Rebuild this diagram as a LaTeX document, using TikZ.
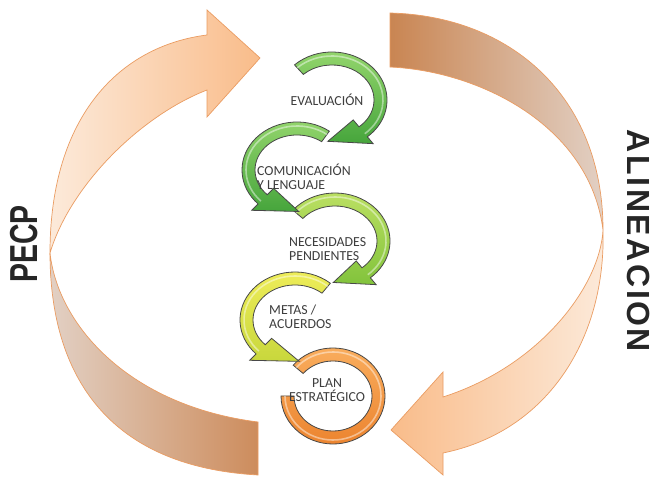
\documentclass[tikz,border=0pt]{standalone}
\usepackage{fontspec}
\usetikzlibrary{calc}
\newfontfamily\ringfont{Carlito}
\newfontfamily\sidefont{Liberation Sans}
\newfontfamily\alinfont{Liberation Sans}[LetterSpace=8]
\definecolor{bandline}{RGB}{234,156,98}
\definecolor{peachlight}{RGB}{252,234,218}
\definecolor{peach}{RGB}{249,188,138}
\definecolor{brownlight}{RGB}{226,208,196}
\definecolor{brown}{RGB}{205,140,92}
\definecolor{browndark}{RGB}{201,133,82}
\definecolor{ringline}{RGB}{72,72,72}
\definecolor{ringtextcol}{RGB}{62,62,62}
\definecolor{greenlight}{RGB}{150,215,110}
\definecolor{greendark}{RGB}{70,165,60}
\definecolor{limelight}{RGB}{190,225,100}
\definecolor{limedark}{RGB}{130,195,60}
\definecolor{yellowlight}{RGB}{240,238,90}
\definecolor{yellowdark}{RGB}{200,215,60}
\definecolor{orangelight}{RGB}{250,175,95}
\definecolor{orangedark}{RGB}{235,130,45}
\tikzset{
  band/.style={draw=bandline, line width=0.7pt},
  ring/.style={draw=ringline, line width=0.8pt},
  shine/.style={white, opacity=0.45, line width=1.6pt},
  ringtext/.style={font=\ringfont\fontsize{13.8}{14}\selectfont, text=ringtextcol, inner sep=0pt},
  sidetext/.style={font=\sidefont\bfseries\fontsize{39}{40}\selectfont, text=black!85, inner sep=0pt}
}
% circular arrow: centre, start angle, end angle, tip angle, light, dark
\newcommand{\ringarrow}[6]{%
  \begin{scope}[shift={(#1)}]
    \path[ring, top color=#5, bottom color=#6]
      (#2:55 and 48) arc[start angle=#2, end angle=#3, x radius=55, y radius=48]
      -- (#3:64 and 57) -- (#4:48.5 and 41.5) -- (#3:33 and 26) -- (#3:42 and 35)
      arc[start angle=#3, end angle=#2, x radius=42, y radius=35] -- cycle;
    \draw[shine] (#2:51 and 44) arc[start angle=#2, end angle=#3, x radius=51, y radius=44];
  \end{scope}}

\begin{document}
\begin{tikzpicture}[x=1pt, y=1pt]
  \clip (0,0) rectangle (652,476);
  \fill[white] (0,0) rectangle (652,476);

  \coordinate (pl) at (50,223);
  \coordinate (pr) at (603,246);

  % PECP arrow
  \path[band, left color=peachlight, right color=peach]
    (pl) .. controls (50,360) and (120,430) .. (207,441) -- (207,466) -- (260,418)
    -- (207,359) -- (207,386) .. controls (140,360) and (70,290) .. (pl) -- cycle;
  \path[band, left color=brownlight, right color=brown]
    (pl) .. controls (58,150) and (130,70) .. (258,54) -- (258,1)
    .. controls (100,10) and (50,110) .. (pl) -- cycle;

  % ALINEACION arrow
  \path[band, left color=browndark, right color=brownlight]
    (390,463) .. controls (510,460) and (603,380) .. (pr)
    .. controls (590,350) and (480,405) .. (390,409) -- cycle;
  \path[band, left color=peach, right color=peachlight]
    (pr) .. controls (606,140) and (550,45) .. (443,23) -- (443,1) -- (391,46)
    -- (443,104) -- (443,79) .. controls (540,110) and (600,190) .. (pr) -- cycle;

  % rings, bottom to top
  \coordinate (c1) at (332,376);
  \coordinate (c2) at (297,306);
  \coordinate (c3) at (335,235);
  \coordinate (c4) at (295,156);
  \coordinate (c5) at (333,80);

  \begin{scope}[shift={(c5)}]
    \path[ring, top color=orangelight, bottom color=orangedark]
      (140:52 and 48) arc[start angle=140, end angle=-180, x radius=52, y radius=48]
      -- (-180:39 and 35) arc[start angle=-180, end angle=140, x radius=39, y radius=35] -- cycle;
    \draw[shine] (140:48 and 44) arc[start angle=140, end angle=-180, x radius=48, y radius=44];
  \end{scope}
  \ringarrow{c4}{50}{225}{275}{yellowlight}{yellowdark}
  \ringarrow{c3}{140}{-50}{-92}{limelight}{limedark}
  \ringarrow{c2}{54}{225}{272}{greenlight}{greendark}
  \ringarrow{c1}{133}{-50}{-95}{greenlight}{greendark}

  % labels
  \node[ringtext] (eval) at (327,376) {EVALUACIÓN};
  \node[ringtext, anchor=west, align=left] (comun) at (257,299) {COMUNICACIÓN\\Y LENGUAJE};
  \node[ringtext, anchor=west, align=left] (neces) at (289,227) {NECESIDADES\\PENDIENTES};
  \node[ringtext, anchor=west, align=left] (metas) at (269,159) {METAS /\\ACUERDOS};
  \node[ringtext, align=center] (plan) at (327,86) {PLAN\\ESTRATÉGICO};

  \node[sidetext, rotate=90, xscale=0.73] (pecp) at (24,232) {PECP};
  \node[sidetext, font=\alinfont\bfseries\fontsize{32}{33}\selectfont, rotate=-90] (alin) at (639,235) {ALINEACION};
\end{tikzpicture}
\end{document}
